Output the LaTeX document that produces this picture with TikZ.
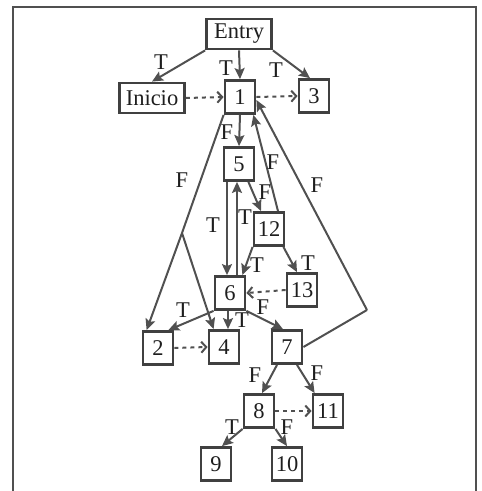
\documentclass[tikz,border=0pt]{standalone}
\usepackage{fontspec}
\setmainfont{Liberation Serif}
\usetikzlibrary{arrows.meta}
\definecolor{lc}{HTML}{505050}
\definecolor{bc}{HTML}{404040}
\definecolor{tc}{HTML}{1E1E1E}
\begin{document}
\begin{tikzpicture}[x=1pt,y=-1pt,
  every node/.style={font=\fontsize{22.5}{25}\selectfont, text=tc},
  nbox/.style={draw=bc, line width=2.8pt, minimum width=30pt, minimum height=33pt, inner sep=0pt},
  wbox/.style={draw=bc, line width=2.8pt, minimum width=65pt, minimum height=30pt, inner sep=0pt},
  solidarrow/.style={draw=lc, line width=2pt, -{Stealth[length=11pt,width=10pt,inset=2pt]}},
  plainline/.style={draw=lc, line width=2pt},
  dasharrow/.style={draw=lc, line width=2pt, dash pattern=on 4pt off 4pt, -{Straight Barb[length=5pt,width=11pt]}},
  lbl/.style={inner sep=0pt}]
\useasboundingbox (0,0) rectangle (482,491);
\draw[lc, line width=1.2pt] (13,491) -- (13,7) -- (476,7) -- (476,491);

\node[wbox] (entry) at (239,34) {Entry};
\node[wbox] (inicio) at (152,98) {Inicio};
\node[nbox] (n1) at (240,97) {1};
\node[nbox] (n3) at (314,96) {3};
\node[nbox] (n5) at (239,164) {5};
\node[nbox] (n12) at (269,229) {12};
\node[nbox] (n6) at (230,293) {6};
\node[nbox] (n13) at (302,290) {13};
\node[nbox] (n2) at (158,348) {2};
\node[nbox] (n4) at (224,347) {4};
\node[nbox] (n7) at (287,347) {7};
\node[nbox] (n8) at (259,411) {8};
\node[nbox] (n11) at (328,411) {11};
\node[nbox] (n9) at (216,464) {9};
\node[nbox] (n10) at (287,464) {10};

\coordinate (fork) at (182,233);
\coordinate (corner) at (367,310);

% edges from Entry
\draw[solidarrow] (entry.south west) -- (inicio.north);
\draw[solidarrow] (entry.south) -- (n1.north);
\draw[solidarrow] (entry.south east) -- ([xshift=-4pt]n3.north);
\draw[dasharrow] (inicio.east) -- (n1.west);
\draw[dasharrow] (n1.east) -- (n3.west);

% from 1
\draw[solidarrow] (n1.south) -- (n5.north);
\draw[plainline] (n1.south west) -- (fork);
\draw[solidarrow] (fork) -- ([xshift=5pt]n2.north west);
\draw[solidarrow] (fork) -- ([xshift=6pt]n4.north west);

% 5 and 6
\draw[solidarrow] ([xshift=-12pt]n5.south) -- ([xshift=-3pt]n6.north);
\draw[solidarrow] ([xshift=7pt]n6.north) -- ([xshift=-2pt]n5.south);
\draw[solidarrow] ([xshift=-7pt]n5.south east) -- ([xshift=-8pt]n12.north);
\draw[solidarrow] ([xshift=9pt]n12.north) -- ([xshift=-3pt]n1.south east);
\draw[plainline] (n7.east) -- (corner);
\draw[solidarrow] (corner) -- ([yshift=-3pt]n1.east);

\draw[solidarrow] (n12.south west) -- ([xshift=-4pt]n6.north east);
\draw[solidarrow] ([xshift=-2pt]n12.south east) -- ([xshift=-5pt]n13.north);
\draw[dasharrow] (n13.west) -- (n6.east);

\draw[solidarrow] (n6.south west) -- ([xshift=-6pt]n2.north east);
\draw[solidarrow] ([xshift=-2pt]n6.south) -- ([xshift=4pt]n4.north);
\draw[solidarrow] (n6.south east) -- ([xshift=-4pt]n7.north);
\draw[dasharrow] (n2.east) -- (n4.west);

\draw[solidarrow] ([xshift=-10pt]n7.south) -- ([xshift=3pt]n8.north);
\draw[solidarrow] ([xshift=10pt]n7.south) -- ([xshift=3pt]n11.north west);
\draw[dasharrow] (n8.east) -- (n11.west);
\draw[solidarrow] (n8.south west) -- ([xshift=6pt]n9.north);
\draw[solidarrow] (n8.south east) -- (n10.north);

% labels
\node[lbl] (la) at (161,62) {T};
\node[lbl] (lb) at (226,68) {T};
\node[lbl] (lc) at (276,70) {T};
\node[lbl] (ld) at (227,132) {F};
\node[lbl] (le) at (182,180) {F};
\node[lbl] (lf) at (213,225) {T};
\node[lbl] (lg) at (245,217) {T};
\node[lbl] (lh) at (265,192) {F};
\node[lbl] (li) at (273,162) {F};
\node[lbl] (lj) at (317,185) {F};
\node[lbl] (lk) at (257,265) {T};
\node[lbl] (ll) at (308,263) {T};
\node[lbl] (lm) at (183,310) {T};
\node[lbl] (ln) at (242,320) {T};
\node[lbl] (lo) at (263,307) {F};
\node[lbl] (lp) at (255,375) {F};
\node[lbl] (lq) at (317,373) {F};
\node[lbl] (lr) at (232,427) {T};
\node[lbl] (ls) at (287,427) {F};
\end{tikzpicture}
\end{document}
